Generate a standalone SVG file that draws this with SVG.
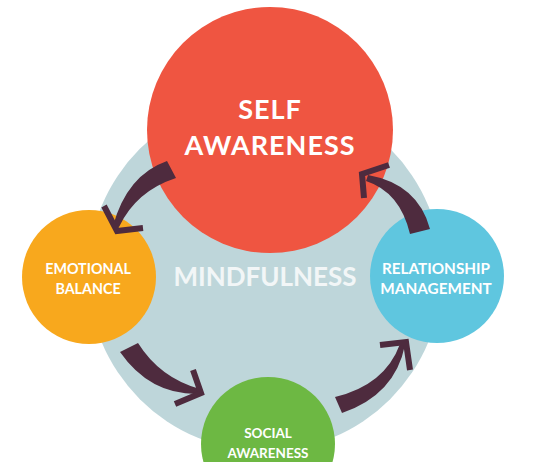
<svg xmlns="http://www.w3.org/2000/svg" width="534" height="462" viewBox="0 0 534 462">
<style>
.t{font-family:Lato,"Liberation Sans",sans-serif;font-weight:700;fill:#ffffff;text-anchor:middle}
.big{font-size:27px;letter-spacing:1px}
.sm{font-size:13.5px}
.mid{font-size:26px;fill:#f2f6f7}
.body{fill:#4e2b3e}
.head{fill:none;stroke:#4e2b3e;stroke-width:6;stroke-linejoin:miter;stroke-linecap:butt}
</style>
<rect width="534" height="462" fill="#ffffff"/>
<g id="mindfulness">
<circle cx="265" cy="274" r="177" fill="#bed6da"/>
<text class="t mid" x="265" y="286">MINDFULNESS</text>
</g>
<g id="self-awareness">
<circle cx="270" cy="130" r="123" fill="#ef5541"/>
<text class="t big" x="270" y="119">SELF</text>
<text class="t big" x="270" y="155">AWARENESS</text>
</g>
<g id="emotional-balance">
<circle cx="89" cy="277" r="67" fill="#f8a81d"/>
<text class="t sm" x="88" y="274" style="font-size:14.3px">EMOTIONAL</text>
<text class="t sm" x="88" y="294" style="font-size:14.3px">BALANCE</text>
</g>
<g id="relationship-management">
<circle cx="437" cy="276" r="67" fill="#5fc6df"/>
<text class="t sm" x="436" y="274" style="font-size:15.3px">RELATIONSHIP</text>
<text class="t sm" x="436" y="294" style="font-size:15.3px">MANAGEMENT</text>
</g>
<g id="social-awareness">
<circle cx="268" cy="444" r="67" fill="#6db843"/>
<text class="t sm" x="268" y="438">SOCIAL</text>
<text class="t sm" x="268" y="458">AWARENESS</text>
</g>
<g id="connectors">
<path class="body" d="M167,161 Q127,175 113,226 L119,227 Q136,191 176,178 Z"/>
<polyline class="head" points="104,206 117,231 143,228"/>
<path class="body" d="M430,229 Q418,184 368,175 L366,181 Q400,192 410,234 Z"/>
<polyline class="head" points="389,165 362,174 364,198"/>
<path class="body" d="M120,352 Q150,395 199,394 L200,389 Q160,378 138,343 Z"/>
<polyline class="head" points="193,370 201,393 175,404"/>
<path class="body" d="M335,397 L342,413 Q395,395 405,345 L400,344 Q385,385 335,397 Z"/>
<polyline class="head" points="380,345 406,342 410,370"/>
</g>
</svg>
